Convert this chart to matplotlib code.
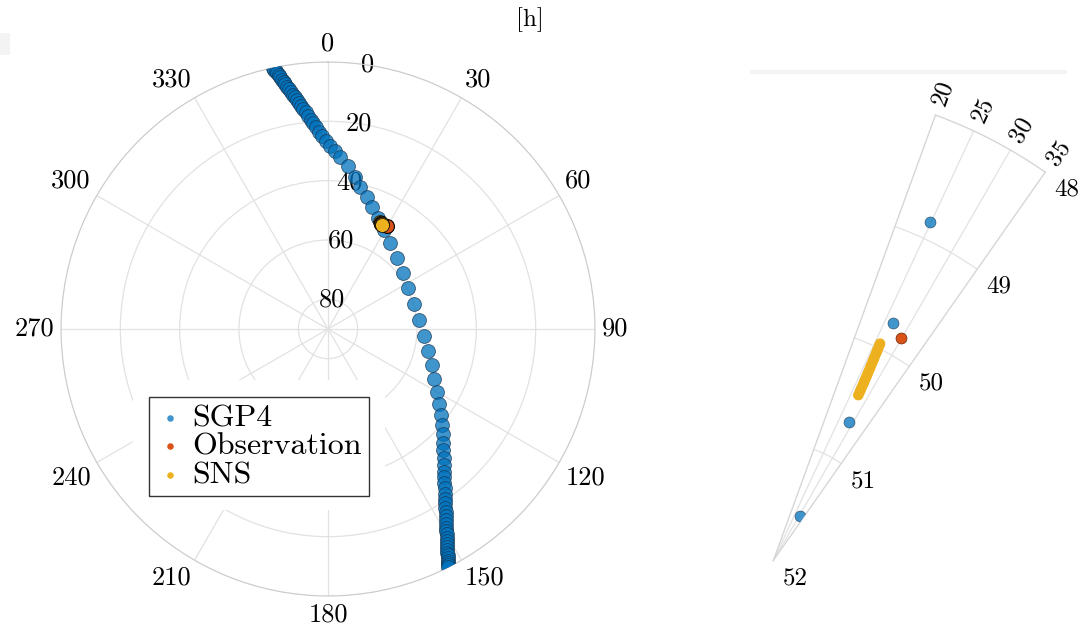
import numpy as np
import matplotlib
matplotlib.use('Agg')
from matplotlib import pyplot as plt
from matplotlib.patches import Rectangle

plt.rcParams['font.family'] = ['cmr10', 'DejaVu Serif']
plt.rcParams['axes.formatter.use_mathtext'] = True
plt.rcParams['mathtext.fontset'] = 'cm'

# SGP4 pass, azimuth and elevation in degrees
sgp4_az = [348.1, 348.3, 348.5, 348.8, 349.0, 349.3, 349.5, 349.8, 350.1, 350.4,
           350.7, 351.1, 351.4, 351.8, 352.2, 352.7, 353.1, 353.5, 354.1, 354.6,
           355.3, 355.9, 356.6, 357.4, 358.3, 359.4, 0.7, 2.2, 4.0, 7.0,
           10.1, 12.7, 16.5, 19.8, 24.0, 29.5, 35.8, 44.2, 53.3, 62.9,
           73.8, 84.4, 94.2, 102.4, 109.1, 115.3, 120.0, 124.0, 127.3, 130.1,
           132.5, 134.7, 136.5, 138.1, 139.6, 140.8, 141.9, 142.9, 143.8, 144.6,
           145.3, 146.1, 146.7, 147.3, 147.8, 148.3, 148.8, 149.2, 149.6, 150.0,
           150.4, 150.7, 151.0, 151.3, 151.6, 151.9, 152.1, 152.4, 152.6, 152.8,
           153.0, 153.2]
sgp4_el = [0.0, 0.7, 1.4, 2.1, 2.9, 3.7, 4.5, 5.4, 6.3, 7.2,
           8.1, 9.1, 10.1, 11.1, 12.1, 13.2, 14.3, 15.4, 16.6, 17.9,
           19.2, 20.5, 21.9, 23.4, 24.9, 26.5, 28.2, 30.0, 31.9, 34.8,
           38.0, 40.9, 43.6, 46.3, 48.9, 51.6, 54.3, 56.6, 58.4, 59.7,
           59.8, 59.2, 57.5, 55.5, 52.9, 50.5, 47.6, 44.8, 42.1, 39.8,
           37.6, 35.6, 33.6, 31.6, 29.8, 28.0, 26.4, 24.9, 23.4, 21.9,
           20.5, 19.2, 17.9, 16.6, 15.4, 14.3, 13.2, 12.1, 11.1, 10.1,
           9.1, 8.1, 7.2, 6.3, 5.4, 4.5, 3.7, 2.9, 2.1, 1.4,
           0.7, 0.0]

# SGP4 samples seen in the zoomed wedge
zoom_sgp4_az = [24.9, 26.7, 28.7, 30.8]
zoom_sgp4_el = [48.85, 49.76, 50.67, 51.56]

obs_az = [29.9]
obs_el = [49.83]

sns_az = [26.20, 26.25, 26.30, 26.35, 26.40, 26.45, 26.50, 26.55, 26.60, 26.65,
          26.70, 26.75, 26.80, 26.85, 26.90, 26.95, 27.00, 27.05, 27.10, 27.15,
          27.20]
sns_el = [49.96, 49.98, 50.01, 50.03, 50.05, 50.08, 50.10, 50.12, 50.15, 50.17,
          50.19, 50.22, 50.24, 50.26, 50.29, 50.31, 50.33, 50.36, 50.38, 50.40,
          50.43]

theta_ticks = list(range(0, 360, 30))
r_ticks = [0, 20, 40, 60, 80]
zoom_theta_ticks = [20, 25, 30, 35]
zoom_r_ticks = [48, 49, 50, 51, 52]

c_sgp4 = '#0072BD'
c_obs = '#D95319'
c_sns = '#EDB120'
grid_c = '#e2e2e2'

W, H = 1082, 631
fig = plt.figure(figsize=(W / 100, H / 100), dpi=100)


def px_box(x0, y0, x1, y1):
    # pixel box (top-left origin) -> figure fraction [l, b, w, h]
    return [x0 / W, 1 - y1 / H, (x1 - x0) / W, (y1 - y0) / H]


# ---- full sky plot
ax = fig.add_axes(px_box(61, 62, 595, 596), projection='polar')
ax.set_theta_zero_location('N')
ax.set_theta_direction(-1)
ax.set_rlim(90, 0)
ax.set_thetagrids(theta_ticks, [str(t) for t in theta_ticks])
ax.set_rgrids(r_ticks, [str(r) for r in r_ticks], angle=8.5)
ax.grid(color=grid_c, lw=0.9)
ax.spines['polar'].set_color('#cccccc')
ax.tick_params(labelsize=19, length=0)
ax.tick_params(axis='x', pad=-2)
for t, lab in zip(theta_ticks, ax.get_xticklabels()):
    s, c = np.sin(np.deg2rad(t)), np.cos(np.deg2rad(t))
    lab.set_ha('left' if s > 0.3 else 'right' if s < -0.3 else 'center')
    lab.set_va('bottom' if c > 0.3 else 'top' if c < -0.3 else 'center')
for lab in ax.get_yticklabels():
    lab.set_ha('center')
    lab.set_va('center')

ax.scatter(np.deg2rad(sgp4_az), sgp4_el, s=100, c=c_sgp4, alpha=0.75,
           edgecolors='#17334d', linewidths=0.6, label='SGP4', zorder=3)
ax.scatter(np.deg2rad(obs_az), obs_el, s=100, c=c_obs,
           edgecolors='k', linewidths=0.8, label='Observation', zorder=4)
ax.scatter(np.deg2rad(sns_az), sns_el, s=100, c=c_sns,
           edgecolors='k', linewidths=0.5, label='SNS', zorder=5)

# white area behind the legend
ax.add_patch(Rectangle((133 / W, 1 - 510 / H), 252 / W, 130 / H,
                       transform=fig.transFigure, facecolor='white',
                       edgecolor='none', zorder=2, clip_on=False))
leg = ax.legend(loc='upper left', bbox_to_anchor=(149 / W, 1 - 397 / H),
                bbox_transform=fig.transFigure, fontsize=23, fancybox=False,
                framealpha=1, edgecolor='#333333', borderpad=0.22,
                handlelength=0.875, handletextpad=0.25, labelspacing=0.0,
                markerscale=0.47, borderaxespad=0)
leg.get_frame().set_linewidth(1.0)
for h in leg.legend_handles:
    h.set_linewidth(0)

# ---- zoomed wedge (polar wedges are fitted into a square box)
side = 560.7 - 115
xc = (773.3 + 1045.2) / 2
az2 = fig.add_axes(px_box(xc - side / 2, 115, xc + side / 2, 560.7),
                   projection='polar')
az2.set_theta_zero_location('N')
az2.set_theta_direction(-1)
az2.set_thetamin(20)
az2.set_thetamax(35)
az2.set_rlim(52, 48)
az2.set_thetagrids(zoom_theta_ticks, [str(t) for t in zoom_theta_ticks])
az2.set_rgrids(zoom_r_ticks, [str(r) for r in zoom_r_ticks])
az2.grid(color=grid_c, lw=0.9)
for sp in az2.spines.values():
    sp.set_color('#d6d6d6')
    sp.set_linewidth(0.9)
az2.tick_params(labelsize=18, length=0)
az2.tick_params(axis='x', labelrotation=('auto', 90), pad=9.6)
az2.tick_params(axis='y', labelleft=False, labelright=True, pad=8)

az2.scatter(np.deg2rad(zoom_sgp4_az), zoom_sgp4_el, s=62, c=c_sgp4, alpha=0.75,
            edgecolors='#17334d', linewidths=0.5, zorder=3)
az2.scatter(np.deg2rad(obs_az), obs_el, s=62, c=c_obs,
            edgecolors='#6e2508', linewidths=0.5, zorder=4)
az2.scatter(np.deg2rad(sns_az), sns_el, s=58, c=c_sns,
            edgecolors='none', zorder=5)

fig.text(530 / W, 1 - 20 / H, '[h]', ha='center', va='center', fontsize=18)
fig.add_artist(Rectangle((750 / W, 1 - 74 / H), 317 / W, 4 / H,
                         transform=fig.transFigure, facecolor='#f4f4f4',
                         edgecolor='none', zorder=-1))
fig.add_artist(Rectangle((0, 1 - 55 / H), 10 / W, 22 / H,
                         transform=fig.transFigure, facecolor='#f3f3f3',
                         edgecolor='none', zorder=-1))

fig.savefig('out.png', dpi=100)
